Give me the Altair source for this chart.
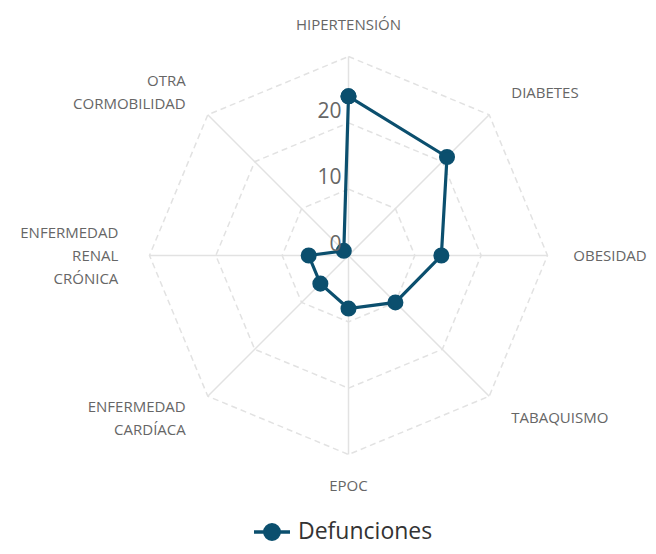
import math
import altair as alt
import pandas as pd

# ---- data ----
categorias = ["HIPERTENSIÓN", "DIABETES", "OBESIDAD", "TABAQUISMO", "EPOC",
              "ENFERMEDAD\nCARDÍACA", "ENFERMEDAD\nRENAL\nCRÓNICA", "OTRA\nCORMOBILIDAD"]
defunciones = [24, 21, 14, 10, 8, 6, 6, 1]
serie = "Defunciones"
niveles = [10, 20, 30]
ticks_escala = [0, 10, 20]

COLOR = "#0b4f6e"
GRID = "#e2e2e2"
FONT = "Open Sans"
N = len(categorias)
RMAX = 30
RLAB = 34.7
LH = 23

# ---- tables ----
serie_df = pd.DataFrame({
    "i": list(range(N)) + [0],
    "ord": list(range(N + 1)),
    "v": defunciones + [defunciones[0]],
    "serie": serie,
})
anillos_df = pd.DataFrame([
    {"nivel": lv, "i": k % N, "ord": k, "v": lv} for lv in niveles for k in range(N + 1)
])
ejes_df = pd.DataFrame({"i": list(range(N)), "v": [RMAX] * N, "cat": categorias})
escala_df = pd.DataFrame({"v": ticks_escala, "t": [str(t) for t in ticks_escala]})

W, H = 640, 538
k = 199 / 30.0
xs = alt.Scale(domain=[-340.5 / k, (W - 340.5) / k], nice=False, zero=False)
ys = alt.Scale(domain=[-(H - 247.5) / k, 247.5 / k], nice=False, zero=False)

def polar(ch, rfield="v"):
    return ch.transform_calculate(
        ang="datum.i * PI / 4",
    ).transform_calculate(
        x=f"datum.{rfield} * sin(datum.ang)",
        y=f"datum.{rfield} * cos(datum.ang)",
        x0="0", y0="0",
        s="sin(datum.ang)",
    )

X = alt.X("x:Q", scale=xs, axis=None)
Y = alt.Y("y:Q", scale=ys, axis=None)

anillos = polar(alt.Chart(anillos_df)).mark_line(
    color=GRID, strokeWidth=1.5, strokeDash=[6, 4]
).encode(x=X, y=Y, detail="nivel:N", order="ord:Q")

ejes = polar(alt.Chart(ejes_df)).mark_rule(color=GRID, strokeWidth=1.5).encode(
    x=alt.X("x0:Q", scale=xs, axis=None), y=alt.Y("y0:Q", scale=ys, axis=None),
    x2="x:Q", y2="y:Q")

def etiquetas(cond, align):
    return polar(
        alt.Chart(ejes_df).transform_calculate(
            r=f"{RLAB} - (sin(datum.i * PI / 4) > 0.99 ? 0.8 : 0)"), "r"
    ).transform_calculate(
        yl=f"datum.y + (length(split(datum.cat, '\\n')) - 1) * {LH / 2} / {k}"
    ).transform_filter(cond).mark_text(
        align=align, baseline="middle", font=FONT, fontSize=15, color="#666666",
        lineBreak="\n", lineHeight=LH
    ).encode(x=X, y=alt.Y("yl:Q", scale=ys, axis=None), text="cat:N")

lab_c = etiquetas("abs(datum.s) < 0.01", "center")
lab_l = etiquetas("datum.s > 0.01", "left")
lab_r = etiquetas("datum.s < -0.01", "right")

escala = alt.Chart(escala_df).mark_text(
    align="right", baseline="alphabetic", dx=-7, dy=-5, font=FONT, fontSize=21, color="#666666"
).encode(x=alt.X("x0:Q", scale=xs, axis=None), y=alt.Y("v:Q", scale=ys, axis=None), text="t:N"
).transform_calculate(x0="0")

path = "M-1,0L-0.4,0M0.4,0L1,0M-0.4,0A0.4,0.4 0 1,1 0.4,0A0.4,0.4 0 1,1 -0.4,0Z"

linea = polar(alt.Chart(serie_df)).mark_line(strokeWidth=3.2, color=COLOR).encode(
    x=X, y=Y, order="ord:Q")

puntos = polar(alt.Chart(serie_df)).mark_point(
    filled=True, size=170, opacity=1, strokeWidth=3).encode(
    x=X, y=Y,
    color=alt.Color("serie:N", scale=alt.Scale(range=[COLOR]),
                    legend=alt.Legend(title=None, orient="none", legendX=244, legendY=504,
                                      symbolType=path, symbolSize=1296, symbolStrokeWidth=3.5,
                                      symbolStrokeColor=COLOR, symbolFillColor=COLOR,
                                      labelFont=FONT, labelFontSize=23, labelColor="#333333",
                                      labelOffset=6, padding=0)),
    stroke=alt.value(COLOR),
)

chart = alt.layer(anillos, ejes, lab_c, lab_l, lab_r, linea, puntos, escala).properties(
    width=W, height=H, autosize=alt.AutoSizeParams(type="none"), padding=0
).configure_view(stroke=None)

chart.save("out.html", embed_options={"renderer": "svg", "actions": False})
